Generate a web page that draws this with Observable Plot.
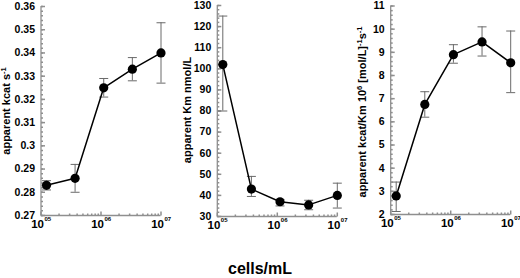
<!DOCTYPE html>
<html><head><meta charset="utf-8">
<script src="https://cdn.jsdelivr.net/npm/d3@7"></script>
<script src="https://cdn.jsdelivr.net/npm/@observablehq/plot@0.6"></script>
<style>
body{margin:0;background:#fff;}
#wrap{position:relative;width:520px;height:278px;font-family:Arial,"Liberation Sans",sans-serif;overflow:hidden;background:#fff;}
.p{position:absolute;top:0;}
#xl{position:absolute;left:0;width:520px;top:261px;line-height:16px;text-align:center;font-weight:bold;font-size:16px;color:#000;padding-left:0px;}
</style></head><body><div id="wrap"><div id="xl">cells/mL</div></div>
<script>
// cell densities (3-fold dilutions)
const cells = [1.235e5, 3.7e5, 1.11e6, 3.33e6, 1.0e7];
// apparent kcat (s-1)
const kcat   = [0.283, 0.286, 0.325, 0.333, 0.340];
const kcatLo = [0.281, 0.280, 0.321, 0.328, 0.327];
const kcatHi = [0.285, 0.292, 0.329, 0.338, 0.353];
// apparent Km (nmol/L)
const km   = [102, 43, 37, 35.5, 40];
const kmLo = [80, 39.5, 35, 33.2, 34];
const kmHi = [125, 49, 38, 37.7, 45.8];
// apparent kcat/Km (10^6 [mol/L]-1 s-1)
const ratio   = [2.8, 6.75, 8.9, 9.45, 8.55];
const ratioLo = [2.13, 6.2, 8.53, 8.84, 7.26];
const ratioHi = [3.4, 7.3, 9.33, 10.1, 9.92];
// tick labels
const xTicks = [1e5, 1e6, 1e7];
const xTickSup = ["05", "06", "07"];
const kcatTicks = [0.27, 0.28, 0.29, 0.30, 0.31, 0.32, 0.33, 0.34, 0.35, 0.36];
const kmTicks = [30, 40, 50, 60, 70, 80, 90, 100, 110, 120, 130];
const ratioTicks = [2, 3, 4, 5, 6, 7, 8, 9, 10, 11];

const AX = "#8f8f8f", ERR = "#6a6a6a";
const capSym = {draw(c, s){const r = Math.sqrt(s/Math.PI); c.moveTo(-r,0); c.lineTo(r,0);}};
const rightTick = {draw(c, s){const r = Math.sqrt(s/Math.PI); c.moveTo(0,0); c.lineTo(r,0);}};
const upTick = {draw(c, s){const r = Math.sqrt(s/Math.PI); c.moveTo(0,0); c.lineTo(0,-r);}};

const xMinor = [];
for (const d of [1e5, 1e6]) for (let k = 2; k <= 9; k++) xMinor.push(d*k);

function panel({left, width, ml, mr, mt, mb, vals, lo, hi, ticks, minorStep, fmt, label, lx, ly}) {
  const ydom = [ticks[0], ticks[ticks.length-1]];
  const data = cells.map((x,i) => ({x, y: vals[i], lo: lo[i], hi: hi[i]}));
  const minor = d3.range(ydom[0], ydom[1] + minorStep/2, minorStep);
  const svg = Plot.plot({
    width, height: 240, marginLeft: ml, marginRight: mr, marginTop: mt, marginBottom: mb,
    style: {fontFamily: "Arial, 'Liberation Sans', sans-serif", background: "transparent", overflow: "visible", color: "#000"},
    x: {type: "log", domain: [1e5, 1e7], axis: null},
    y: {domain: ydom, axis: null},
    marks: [
      Plot.ruleX([1e5], {y1: ydom[0], y2: ydom[1], stroke: AX, strokeWidth: 1.3}),
      Plot.ruleY([ydom[0]], {x1: 1e5, x2: 1e7, stroke: AX, strokeWidth: 1.3}),
      Plot.dot(minor, {x: () => 1e5, y: d => d, symbol: rightTick, r: 2, stroke: AX, fill: "none"}),
      Plot.dot(ticks, {x: () => 1e5, y: d => d, symbol: rightTick, r: 4, stroke: AX, fill: "none"}),
      Plot.dot(xMinor, {x: d => d, y: () => ydom[0], symbol: upTick, r: 2, stroke: AX, fill: "none"}),
      Plot.dot(xTicks, {x: d => d, y: () => ydom[0], symbol: upTick, r: 4, stroke: AX, fill: "none"}),
      Plot.text(ticks, {x: () => 1e5, y: d => d, text: fmt, textAnchor: "end", dx: -6, fontWeight: "bold", fontSize: 10.5, fill: "#000"}),
      Plot.text(xTicks, {x: d => d, y: () => ydom[0], text: () => "10", textAnchor: "end", lineAnchor: "top", dx: 3, dy: 4, fontWeight: "bold", fontSize: 11.5, fill: "#000"}),
      Plot.text(xTicks, {x: d => d, y: () => ydom[0], text: (d,i) => xTickSup[i], textAnchor: "start", lineAnchor: "top", dx: 3.5, dy: 1.5, fontWeight: "bold", fontSize: 6, fill: "#000"}),
      Plot.ruleX(data, {x: "x", y1: "lo", y2: "hi", stroke: ERR, strokeWidth: 1}),
      Plot.dot(data, {x: "x", y: "lo", symbol: capSym, r: 4.5, stroke: ERR, fill: "none", strokeWidth: 1}),
      Plot.dot(data, {x: "x", y: "hi", symbol: capSym, r: 4.5, stroke: ERR, fill: "none", strokeWidth: 1}),
      Plot.line(data, {x: "x", y: "y", stroke: "#000", strokeWidth: 1.5}),
      Plot.dot(data, {x: "x", y: "y", r: 4.6, fill: "#000", stroke: "none"})
    ]
  });
  svg.classList.add("p");
  svg.style.left = left + "px";
  const t = d3.select(svg).append("text")
    .attr("transform", `translate(${lx},${ly}) rotate(-90)`)
    .attr("text-anchor", "middle").attr("dy", "0.35em")
    .attr("font-weight", "bold").attr("font-size", 11).attr("fill", "#000");
  for (const seg of label) {
    if (seg.sup) t.append("tspan").attr("dy", -4).attr("font-size", 7.5).text(seg.t);
    else t.append("tspan").attr("dy", seg.after ? 4 : 0).text(seg.t);
  }
  document.getElementById("wrap").appendChild(svg);
}

panel({left: 0, width: 172, ml: 40.5, mr: 11.5, mt: 6, mb: 25,
  vals: kcat, lo: kcatLo, hi: kcatHi, ticks: kcatTicks, minorStep: 0.002,
  fmt: d => String(+d.toFixed(2)),
  label: [{t: "apparent kcat s"}, {t: "-1", sup: true}], lx: 9.5, ly: 111});

panel({left: 172, width: 176, ml: 44.8, mr: 11.2, mt: 5, mb: 24,
  vals: km, lo: kmLo, hi: kmHi, ticks: kmTicks, minorStep: 2,
  fmt: d => String(d),
  label: [{t: "apparent Km nmol/L"}], lx: 19, ly: 110});

panel({left: 348, width: 172, ml: 42.2, mr: 9.8, mt: 5.5, mb: 26,
  vals: ratio, lo: ratioLo, hi: ratioHi, ticks: ratioTicks, minorStep: 0.2,
  fmt: d => String(d),
  label: [{t: "apparent kcat/Km 10"}, {t: "6", sup: true}, {t: " [mol/L]", after: true}, {t: "-1", sup: true}, {t: "s", after: true}, {t: "-1", sup: true}], lx: 18, ly: 112});
</script></body></html>
